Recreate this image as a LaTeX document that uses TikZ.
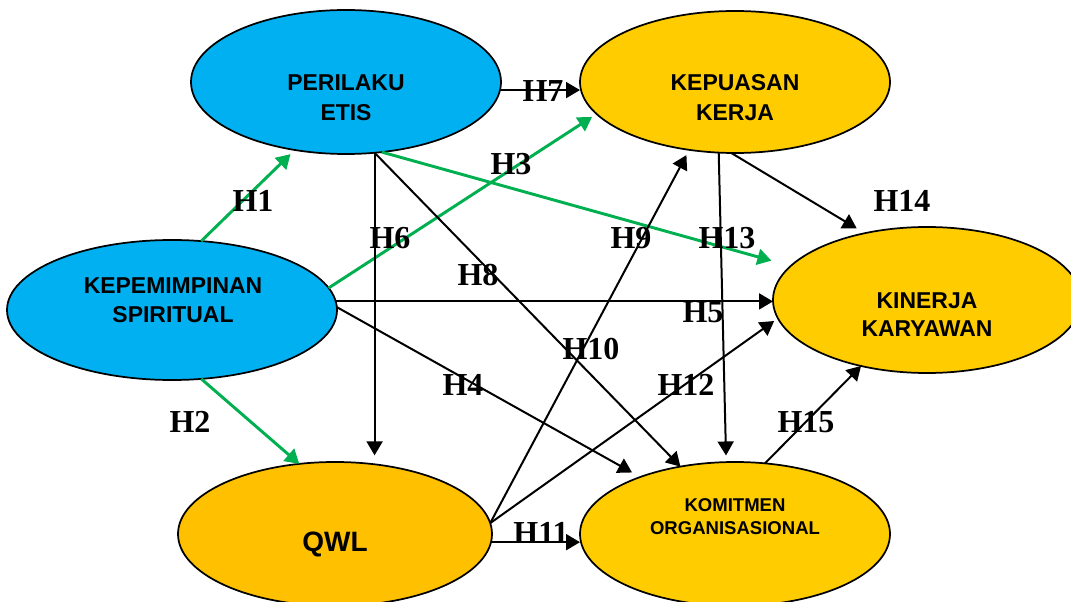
\documentclass[tikz,border=0pt]{standalone}
\usepackage{fontspec}
\newfontfamily\boxfont{Liberation Sans}
\newfontfamily\hypfont{Liberation Serif}
\usetikzlibrary{shapes.geometric,arrows.meta}
\definecolor{skyblue}{HTML}{00B0F0}
\definecolor{gold}{HTML}{FFCC00}
\definecolor{amber}{HTML}{FFC000}
\definecolor{pathgreen}{HTML}{00B050}

\begin{document}
\begin{tikzpicture}[
    x=0.75pt, y=-0.75pt,
    oval/.style={ellipse, draw, line width=1.3pt, inner sep=0pt, outer sep=0pt,
        minimum width=232.5pt, minimum height=108pt},
    vartext/.style={font=\boxfont\bfseries\fontsize{17.2}{22.5}\selectfont, align=center, inner sep=0pt},
    hyp/.style={font=\hypfont\bfseries\fontsize{24}{26}\selectfont, inner sep=0pt},
    blk/.style={line width=1.5pt, -{Triangle[length=10.5pt,width=12pt]}},
    grn/.style={blk, draw=pathgreen, fill=pathgreen, line width=2.2pt}
]
\useasboundingbox (0,0) rectangle (1071,602);

% variabel
\node[oval, fill=skyblue, minimum width=247.5pt, minimum height=105pt] (spirit) at (172,310) {};
\node[oval, fill=skyblue] (etis) at (346,82) {};
\node[oval, fill=gold, minimum height=106.5pt] (puas) at (735,82) {};
\node[oval, fill=gold, minimum width=231pt, minimum height=109.5pt] (kinerja) at (927,300) {};
\node[oval, fill=amber, minimum width=235.5pt] (qwl) at (335,534) {};
\node[oval, fill=gold] (komit) at (735,534) {};

\node[vartext, font=\boxfont\bfseries\fontsize{17.2}{21.75}\selectfont] (spirit-t) at (173,300) {KEPEMIMPINAN\\SPIRITUAL};
\node[vartext] (etis-t) at (346,98) {PERILAKU\\ETIS};
\node[vartext] (puas-t) at (735,98) {KEPUASAN\\KERJA};
\node[vartext, font=\boxfont\bfseries\fontsize{17.2}{21}\selectfont] (kinerja-t) at (927,315) {KINERJA\\KARYAWAN};
\node[vartext, font=\boxfont\bfseries\fontsize{21}{24}\selectfont] (qwl-t) at (335,544) {QWL};
\node[vartext, font=\boxfont\bfseries\fontsize{13.9}{17.25}\selectfont] (komit-t) at (735,517) {KOMITMEN\\ORGANISASIONAL};

% jalur hijau
\draw[grn, shorten >=4.5pt] (spirit.67) -- (etis.233);
\draw[grn] (spirit.-67) -- (qwl.117);
\draw[grn, shorten >=4pt] (spirit.8) -- (puas.193);
\draw[grn, shorten >=15pt] (etis.-63) -- (kinerja.166);

% jalur hitam
\draw[blk, shorten >=5pt] (etis.-68) -- (etis.-68 |- qwl.north);
\draw[blk] (etis.-68) -- (komit.129);
\draw[blk] (spirit.3) -- (spirit.3 -| kinerja.west);
\draw[blk, shorten >=7pt] (spirit.1) -- (komit.149);
\draw[blk] (etis.-3) -- (etis.-3 -| puas.west);
\draw[blk, shorten >=4.5pt] (qwl.4) -- (puas.236);
\draw[blk, shorten >=3.5pt] (qwl.4) -- (kinerja.187);
\draw[blk] (qwl.-3) -- (qwl.-3 -| komit.west);
\draw[blk, shorten >=5pt] (puas.-103) -- (komit.97);
\draw[blk, shorten >=7pt] (puas.-93) -- (kinerja.133);
\draw[blk] (komit.67) -- (kinerja.225);

% hipotesis
\node[hyp] (h1) at (253,201) {H1};
\node[hyp] (h2) at (190,422) {H2};
\node[hyp] (h3) at (511,164) {H3};
\node[hyp] (h4) at (463,385) {H4};
\node[hyp] (h5) at (703,312) {H5};
\node[hyp] (h6) at (390,238) {H6};
\node[hyp] (h7) at (543,91) {H7};
\node[hyp] (h8) at (478,275) {H8};
\node[hyp] (h9) at (631,238) {H9};
\node[hyp] (h10) at (591,349) {H10};
\node[hyp] (h11) at (541,533) {H11};
\node[hyp] (h12) at (686,385) {H12};
\node[hyp] (h13) at (727,238) {H13};
\node[hyp] (h14) at (902,201) {H14};
\node[hyp] (h15) at (806,422) {H15};
\end{tikzpicture}
\end{document}
